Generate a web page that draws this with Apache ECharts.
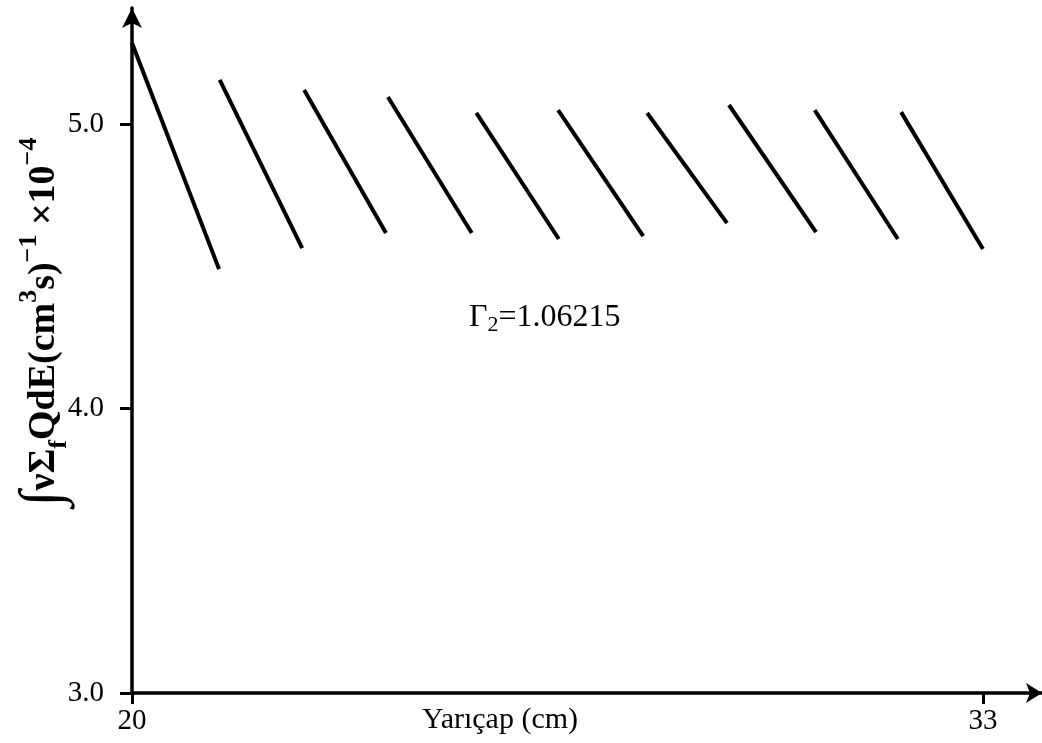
<!DOCTYPE html>
<html>
<head>
<meta charset="utf-8">
<script src="https://cdn.jsdelivr.net/npm/echarts@6/dist/echarts.min.js"></script>
<style>
html,body{margin:0;padding:0;background:#fff;}
#c{width:1042px;height:743px;}
</style>
</head>
<body>
<div id="c"></div>
<script>
// Segment start / end points (x: radius in cm, y: value ×10^-4)
const xStart = [20.00, 21.34, 22.63, 23.91, 25.26, 26.51, 27.87, 29.12, 30.43, 31.75];
const yStart = [5.285, 5.155, 5.120, 5.095, 5.039, 5.049, 5.039, 5.067, 5.049, 5.042];
const xEnd   = [21.33, 22.60, 23.88, 25.19, 26.52, 27.81, 29.09, 30.45, 31.70, 33.00];
const yEnd   = [4.490, 4.564, 4.617, 4.617, 4.596, 4.606, 4.652, 4.620, 4.596, 4.561];
const yTicks = [3, 4, 5];
const xTicks = [20, 33];

const serif = '"Liberation Serif", "DejaVu Serif", serif';

const series = xStart.map((x0, i) => ({
  type: 'line',
  data: [[x0, yStart[i]], [xEnd[i], yEnd[i]]],
  showSymbol: false,
  symbol: 'none',
  lineStyle: { color: '#000', width: 4 },
  silent: true,
  animation: false
}));

const chart = echarts.init(document.getElementById('c'), null, { renderer: 'canvas' });
chart.setOption({
  backgroundColor: '#fff',
  animation: false,
  grid: { left: 132, right: 0, top: 8, bottom: 50, containLabel: false },
  xAxis: {
    type: 'value',
    min: 20,
    max: 33.902,
    splitLine: { show: false },
    axisLine: { show: true, lineStyle: { color: '#000', width: 3.5 }, symbol: ['none', 'arrow'], symbolSize: [15, 16] },
    axisTick: { show: true, customValues: xTicks, length: 11, lineStyle: { color: '#000', width: 3 } },
    axisLabel: { customValues: xTicks, margin: 14, fontFamily: serif, fontSize: 29, color: '#000', formatter: v => String(v) }
  },
  yAxis: {
    type: 'value',
    min: 3,
    max: 5.408,
    splitLine: { show: false },
    axisLine: { show: true, lineStyle: { color: '#000', width: 3.5 }, symbol: ['none', 'arrow'], symbolSize: [15, 20] },
    axisTick: { show: true, customValues: yTicks, length: 12, lineStyle: { color: '#000', width: 3 } },
    axisLabel: { customValues: yTicks, margin: 28, fontFamily: serif, fontSize: 29, color: '#000', formatter: v => v.toFixed(1) }
  },
  graphic: [
    {
      type: 'text',
      x: 500, y: 720,
      style: {
        text: 'Yarıçap (cm)',
        font: '30px ' + serif,
        fill: '#000',
        textAlign: 'center', textVerticalAlign: 'middle',
        align: 'center', verticalAlign: 'middle'
      }
    },
    {
      type: 'text',
      x: 469, y: 318,
      style: {
        text: '{a|Γ}{s|2}{a|=1.06215}',
        fill: '#000',
        textAlign: 'left', textVerticalAlign: 'middle',
        align: 'left', verticalAlign: 'middle',
        rich: {
          a: { fontFamily: serif, fontSize: 32, fill: '#000', color: '#000', lineHeight: 36, verticalAlign: 'middle' },
          s: { fontFamily: serif, fontSize: 22, fill: '#000', color: '#000', lineHeight: 22, verticalAlign: 'bottom' }
        }
      }
    },
    {
      type: 'text',
      x: 44, y: 322,
      rotation: Math.PI / 2,
      style: {
        text: '{i|∫}{b|νΣ}{sub|f}{b|QdE(cm}{sup|3}{b|s)}{sup|−1}{b| ×10}{sup|−4}',
        fill: '#000',
        textAlign: 'center', textVerticalAlign: 'middle',
        align: 'center', verticalAlign: 'middle',
        rich: {
          i: { fontFamily: serif, fontSize: 58, fontWeight: 'bold', fill: '#000', color: '#000', lineHeight: 56, verticalAlign: 'middle' },
          b: { fontFamily: serif, fontSize: 38, fontWeight: 'bold', fill: '#000', color: '#000', lineHeight: 56, verticalAlign: 'middle' },
          sub: { fontFamily: serif, fontSize: 26, fontWeight: 'bold', fill: '#000', color: '#000', lineHeight: 26, verticalAlign: 'bottom' },
          sup: { fontFamily: serif, fontSize: 26, fontWeight: 'bold', fill: '#000', color: '#000', lineHeight: 26, verticalAlign: 'top' }
        }
      }
    }
  ],
  series: series
});
</script>
</body>
</html>
